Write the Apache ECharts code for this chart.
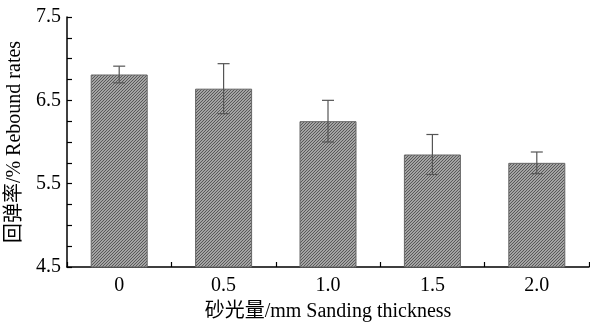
<!DOCTYPE html>
<html>
<head>
<meta charset="utf-8">
<script src="https://cdn.jsdelivr.net/npm/echarts@6/dist/echarts.min.js"></script>
<style>
html,body{margin:0;padding:0;background:#fff;}
#chart{width:590px;height:322px;}
</style>
</head>
<body>
<div id="chart"></div>
<script>
const categories = ['0', '0.5', '1.0', '1.5', '2.0'];
const values = [6.81, 6.64, 6.25, 5.85, 5.75];
const errors = [0.10, 0.30, 0.25, 0.24, 0.13];
const yTickLabels = [4.5, 5.5, 6.5, 7.5];

function makePattern() {
  const c = document.createElement('canvas');
  c.width = 3; c.height = 3;
  const ctx = c.getContext('2d');
  ctx.fillStyle = '#c8c8c8';
  ctx.fillRect(0, 0, 3, 3);
  ctx.strokeStyle = '#555';
  ctx.lineWidth = 1.2;
  ctx.beginPath();
  ctx.moveTo(-1, 4); ctx.lineTo(4, -1);
  ctx.moveTo(-1, 1); ctx.lineTo(1, -1);
  ctx.moveTo(2, 4); ctx.lineTo(4, 2);
  ctx.stroke();
  return c;
}

const chart = echarts.init(document.getElementById('chart'), null, {renderer: 'canvas'});
const font = '"Liberation Serif", "Times New Roman", "Noto Sans CJK SC", serif';
const errData = values.map((v, i) => [i, v - errors[i], v + errors[i]]);

chart.setOption({
  animation: false,
  backgroundColor: '#fff',
  grid: {left: 67, right: 1, top: 17, bottom: 55, containLabel: false, outerBoundsMode: 'none'},
  xAxis: [{
    type: 'category',
    data: categories,
    position: 'bottom',
    axisLine: {show: true, lineStyle: {color: '#000', width: 1.5}},
    axisTick: {show: true, inside: true, length: 5, lineStyle: {color: '#000', width: 1.2}},
    axisLabel: {fontFamily: font, fontSize: 20, color: '#000', margin: 9},
    name: '砂光量/mm Sanding thickness',
    nameLocation: 'middle',
    nameGap: 35,
    nameTextStyle: {fontFamily: font, fontSize: 20, color: '#000'}
  }, {
    type: 'category',
    data: categories,
    position: 'bottom',
    offset: 0,
    axisLine: {show: false},
    axisTick: {show: true, inside: true, alignWithLabel: true, length: 5, lineStyle: {color: '#000', width: 1.2}},
    axisLabel: {show: false}
  }],
  yAxis: {
    type: 'value',
    min: 4.5,
    max: 7.5,
    interval: 0.25,
    splitLine: {show: false},
    axisLine: {show: true, lineStyle: {color: '#000', width: 1.5}},
    axisTick: {show: true, inside: true, length: 5, lineStyle: {color: '#000', width: 1.2}},
    axisLabel: {
      fontFamily: font, fontSize: 20, color: '#000', margin: 6,
      formatter: function (v) {
        for (const t of yTickLabels) { if (Math.abs(v - t) < 1e-6) return t.toFixed(1); }
        return '';
      }
    },
    name: '回弹率/% Rebound rates',
    nameLocation: 'middle',
    nameGap: 38,
    nameRotate: 90,
    nameTextStyle: {fontFamily: font, fontSize: 20, color: '#000'}
  },
  series: [{
    type: 'bar',
    data: values,
    barWidth: 57,
    itemStyle: {
      color: {image: makePattern(), repetition: 'repeat'},
      borderColor: '#666',
      borderWidth: 1
    }
  }, {
    type: 'custom',
    data: errData,
    z: 10,
    renderItem: function (params, api) {
      const i = api.value(0);
      const lo = api.coord([i, api.value(1)]);
      const hi = api.coord([i, api.value(2)]);
      const hw = 6;
      const style = {stroke: '#555', lineWidth: 1.2};
      return {
        type: 'group',
        children: [
          {type: 'line', shape: {x1: hi[0], y1: hi[1], x2: lo[0], y2: lo[1]}, style: style},
          {type: 'line', shape: {x1: hi[0] - hw, y1: hi[1], x2: hi[0] + hw, y2: hi[1]}, style: style},
          {type: 'line', shape: {x1: lo[0] - hw, y1: lo[1], x2: lo[0] + hw, y2: lo[1]}, style: style}
        ]
      };
    }
  }]
});
</script>
</body>
</html>
